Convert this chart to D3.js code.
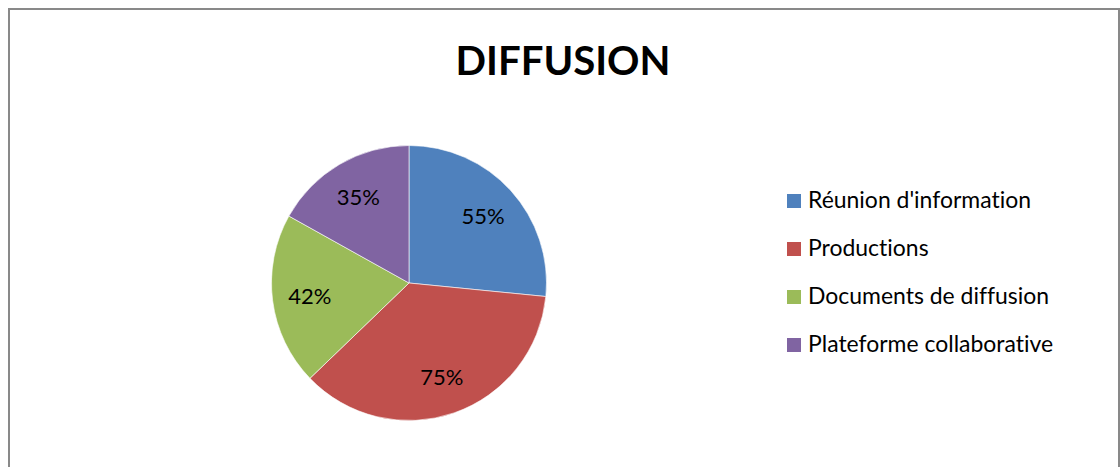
<!DOCTYPE html>
<html>
<head>
<meta charset="utf-8">
<script src="https://cdn.jsdelivr.net/npm/d3@7"></script>
<style>
  html, body { margin: 0; padding: 0; background: #fff; }
  svg { display: block; }
  text { font-family: Lato, "Open Sans", sans-serif; fill: #000; font-variant-ligatures: none; }
</style>
</head>
<body>
<svg id="chart" width="1120" height="467"></svg>
<script>
const title = "DIFFUSION";
const categories = ["Réunion d'information", "Productions", "Documents de diffusion", "Plateforme collaborative"];
const values = [55, 75, 42, 35];
const labels = ["55%", "75%", "42%", "35%"];
const colors = ["#4F81BD", "#C0504D", "#9BBB59", "#8064A2"];

const svg = d3.select("#chart");

// outer frame
svg.append("rect")
  .attr("x", 9).attr("y", 9)
  .attr("width", 1110).attr("height", 470)
  .attr("fill", "#fff")
  .attr("stroke", "#898989")
  .attr("stroke-width", 2);

function fit(sel, target, start) {
  sel.style("font-size", start + "px");
  const w = sel.node().getComputedTextLength();
  sel.style("font-size", (start * target / w).toFixed(2) + "px");
}

// title
const t = svg.append("text")
  .attr("x", 563).attr("y", 75)
  .attr("text-anchor", "middle")
  .style("font-weight", "bold")
  .text(title);
fit(t, 215, 40);

// pie
const cx = 409, cy = 283, r = 137.5;
const pie = d3.pie().sort(null).value(d => d)(values);
const arc = d3.arc().innerRadius(0).outerRadius(r);
const labelArc = d3.arc().innerRadius(100).outerRadius(100);

const g = svg.append("g").attr("transform", `translate(${cx},${cy})`);
g.selectAll("path.slice")
  .data(pie)
  .join("path")
  .attr("class", "slice")
  .attr("d", arc)
  .attr("fill", (d, i) => colors[i])
  .attr("stroke", "#fff")
  .attr("stroke-width", 0.6);

g.selectAll("text.lbl")
  .data(pie)
  .join("text")
  .attr("class", "lbl")
  .attr("transform", d => `translate(${labelArc.centroid(d)})`)
  .attr("text-anchor", "middle")
  .attr("dy", "0.36em")
  .style("font-size", "22px")
  .text((d, i) => labels[i]);

// legend
const legend = svg.append("g").attr("transform", "translate(787,0)");
const rowY = d3.scalePoint().domain(categories).range([201, 345]);
const items = legend.selectAll("g.item")
  .data(categories)
  .join("g")
  .attr("class", "item")
  .attr("transform", d => `translate(0,${rowY(d)})`);
items.append("rect")
  .attr("x", 0).attr("y", -7)
  .attr("width", 14).attr("height", 14)
  .attr("fill", (d, i) => colors[i]);
const ltxt = items.append("text")
  .attr("x", 21).attr("y", 7)
  .text(d => d);
const first = ltxt.filter((d, i) => i === 0);
fit(first, 223, 20);
ltxt.style("font-size", first.style("font-size"));
</script>
</body>
</html>
